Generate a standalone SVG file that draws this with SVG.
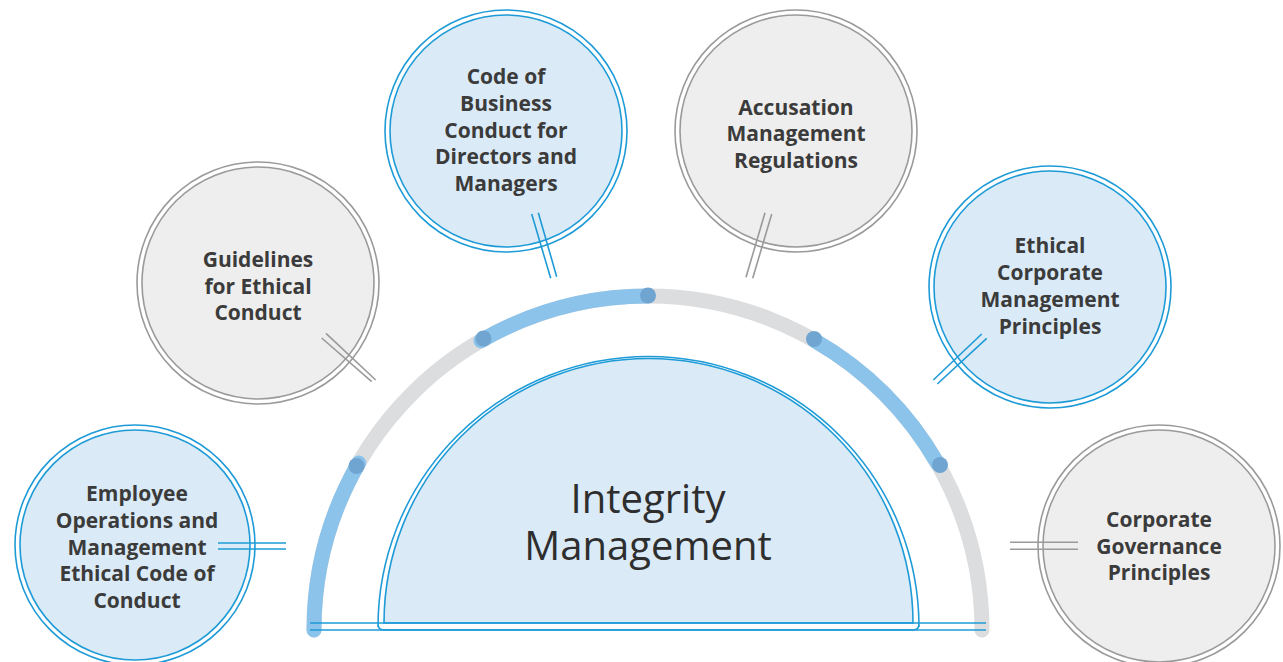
<svg xmlns="http://www.w3.org/2000/svg" width="1283" height="662" viewBox="0 0 1283 662">
<style>
.bg{fill:#ffffff}
.arcb{fill:none;stroke:#8CC3EA;stroke-width:15;stroke-linecap:round}
.arcg{fill:none;stroke:#DCDDDF;stroke-width:15;stroke-linecap:round}
.dot{fill:#6FA5D0}
.bl{fill:none;stroke:#1E9BD7;stroke-width:1.6}
.gl{fill:none;stroke:#9A9A9A;stroke-width:1.6}
.bfill{fill:#DAEAF6;stroke:#1E9BD7;stroke-width:1.6}
.gfill{fill:#EEEEEE;stroke:#9A9A9A;stroke-width:1.6}
.ringb{fill:#ffffff;stroke:#1E9BD7;stroke-width:1.6}
.ringg{fill:#ffffff;stroke:#9A9A9A;stroke-width:1.6}
.t{font-family:"Open Sans","Liberation Sans",sans-serif;font-weight:700;font-size:21px;fill:#3B3B3B;text-anchor:middle}
.title{font-family:"Open Sans","Liberation Sans",sans-serif;font-weight:400;font-size:40px;fill:#2E2E2E;text-anchor:middle}
</style>
<rect class="bg" x="0" y="0" width="1283" height="662"/>
<g id="arc">
<path class="arcg" d="M314,630 A334,334 0 0 1 982,630"/>
<path class="arcb" d="M314,630 A334,334 0 0 1 358.7,463"/>
<path class="arcb" d="M481,340.7 A334,334 0 0 1 648,296"/>
<path class="arcb" d="M815,340.7 A334,334 0 0 1 937.3,463"/>
<circle class="dot" cx="356.5" cy="466" r="8"/>
<circle class="dot" cx="483.5" cy="338.5" r="8"/>
<circle class="dot" cx="648" cy="295.5" r="8"/>
<circle class="dot" cx="814" cy="339" r="8"/>
<circle class="dot" cx="940" cy="465" r="8"/>
</g>
<g id="center">
<path class="ringb" d="M384,630 Q378,630 378,624 L378,627 A270.5,270.5 0 0 1 919,627 L919,624 Q919,630 913,630 Z"/>
<path class="bfill" d="M384,623 L384,623 A264.5,264.5 0 0 1 913,623 Z"/>
<text class="title" x="648" y="513"><tspan x="648" y="513">Integrity</tspan><tspan x="648" y="560">Management</tspan></text>
</g>
<g id="node-employee">
<circle class="ringb" cx="135" cy="545" r="120"/>
<circle class="bfill" cx="135" cy="545" r="115"/>
<text class="t" x="137" y="501">Employee</text>
<text class="t" x="137" y="528">Operations and</text>
<text class="t" x="137" y="555">Management</text>
<text class="t" x="137" y="581">Ethical Code of</text>
<text class="t" x="137" y="608">Conduct</text>
</g>
<g id="node-guidelines">
<circle class="ringg" cx="258" cy="283" r="121"/>
<circle class="gfill" cx="258" cy="283" r="116"/>
<text class="t" x="258" y="267">Guidelines</text>
<text class="t" x="258" y="294">for Ethical</text>
<text class="t" x="258" y="320">Conduct</text>
</g>
<g id="node-code">
<circle class="ringb" cx="506" cy="131" r="121"/>
<circle class="bfill" cx="506" cy="131" r="116"/>
<text class="t" x="506" y="84">Code of</text>
<text class="t" x="506" y="111">Business</text>
<text class="t" x="506" y="138">Conduct for</text>
<text class="t" x="506" y="164">Directors and</text>
<text class="t" x="506" y="191">Managers</text>
</g>
<g id="node-accusation">
<circle class="ringg" cx="796" cy="131" r="121"/>
<circle class="gfill" cx="796" cy="131" r="116"/>
<text class="t" x="796" y="115">Accusation</text>
<text class="t" x="796" y="141">Management</text>
<text class="t" x="796" y="168">Regulations</text>
</g>
<g id="node-ethical">
<circle class="ringb" cx="1050" cy="287" r="121"/>
<circle class="bfill" cx="1050" cy="287" r="116"/>
<text class="t" x="1050" y="253">Ethical</text>
<text class="t" x="1050" y="280">Corporate</text>
<text class="t" x="1050" y="307">Management</text>
<text class="t" x="1050" y="334">Principles</text>
</g>
<g id="node-governance">
<circle class="ringg" cx="1159" cy="546" r="121"/>
<circle class="gfill" cx="1159" cy="546" r="116"/>
<text class="t" x="1159" y="527">Corporate</text>
<text class="t" x="1159" y="554">Governance</text>
<text class="t" x="1159" y="580">Principles</text>
</g>
<g id="connectors">
<line class="bl" x1="310" y1="623" x2="986" y2="623"/>
<line class="bl" x1="310" y1="630" x2="986" y2="630"/>
<line class="bl" x1="218" y1="543" x2="286" y2="543"/>
<line class="bl" x1="218" y1="549" x2="286" y2="549"/>
<line class="gl" x1="321.7" y1="338" x2="371.7" y2="381.7"/>
<line class="gl" x1="326" y1="333.3" x2="375.7" y2="380"/>
<line class="bl" x1="531.7" y1="214" x2="550.7" y2="278.3"/>
<line class="bl" x1="538.3" y1="212.7" x2="556.7" y2="276.7"/>
<line class="gl" x1="765" y1="212.7" x2="746" y2="277.3"/>
<line class="gl" x1="771.7" y1="214" x2="752.7" y2="278.3"/>
<line class="bl" x1="981.7" y1="334" x2="933.3" y2="380"/>
<line class="bl" x1="986.7" y1="338.3" x2="937.3" y2="384"/>
<line class="gl" x1="1010" y1="542.3" x2="1078" y2="542.3"/>
<line class="gl" x1="1010" y1="549.3" x2="1078" y2="549.3"/>
</g>
</svg>
